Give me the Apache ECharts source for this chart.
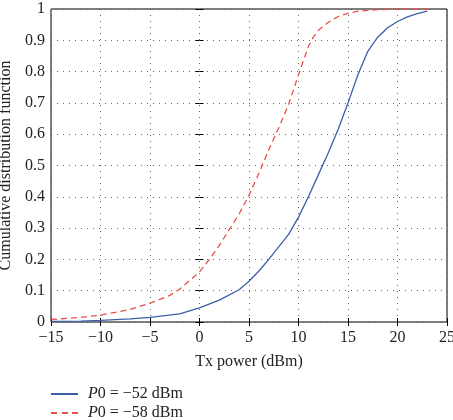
<!DOCTYPE html>
<html><head><meta charset="utf-8">
<script src="https://cdn.jsdelivr.net/npm/echarts@6/dist/echarts.min.js"></script>
<style>html,body{margin:0;padding:0;background:#fff}#c{width:453px;height:420px}</style>
</head><body><div id="c"></div>
<script>
const xBlue = [-15,-12,-10,-7,-5,-2,0,2,4,5,6,7,8,9,10,11,12,13,14,15,16,17,18,19,20,21,22,23];
const yBlue = [0.002,0.003,0.005,0.01,0.015,0.026,0.045,0.07,0.103,0.13,0.163,0.2,0.24,0.28,0.335,0.4,0.47,0.54,0.615,0.7,0.79,0.865,0.91,0.94,0.96,0.975,0.985,0.993];
const xRed = [-15,-12,-10,-7,-5,-3,-2,0,1,2,3,4,5,6,7,8,9,10,11,11.5,12,13,14,15,16,18,20,23];
const yRed = [0.008,0.015,0.022,0.04,0.06,0.085,0.105,0.16,0.2,0.245,0.295,0.345,0.405,0.475,0.55,0.62,0.695,0.79,0.88,0.91,0.932,0.957,0.976,0.986,0.993,0.998,1.0,1.0];
const names = ['P0 = −52 dBm','P0 = −58 dBm'];
const xTicks = {min:-15,max:25,interval:5};
const yTicks = {min:0,max:1,interval:0.1};

const FONT = 'Liberation Serif';
const FS = 16;
const TXT = '#222';
const minus = v => String(v).replace('-', '−');
const chart = echarts.init(document.getElementById('c'), null, {renderer:'canvas'});
const dotted = {show:true, lineStyle:{color:'#666', width:1, type:[1,5]}};
const tick = {show:true, inside:true, length:4, lineStyle:{color:'#000'}};
const legendText = {fontFamily:FONT, fontSize:FS, color:TXT,
  rich:{i:{fontFamily:FONT, fontSize:FS, fontStyle:'italic', color:TXT, padding:[0,0,0,5]}, n:{fontFamily:FONT, fontSize:FS, color:TXT}}};
const legendFmt = n => '{i|P}{n|' + n.slice(1) + '}';
const mkLegend = (name, top, icon) => ({
  left:51, top:top, padding:0, itemWidth:27, itemHeight:2, itemGap:9,
  textStyle:legendText, formatter:legendFmt, selectedMode:false,
  data:[{name:name, icon:icon}]
});
chart.setOption({
  animation:false,
  grid: {left:51, right:6, top:9, bottom:98, show:true, borderColor:'#000', borderWidth:1, containLabel:false, outerBoundsMode:'none'},
  legend: [
    mkLegend(names[0], 386, 'path://M0,0h27v2h-27z'),
    mkLegend(names[1], 405, 'path://M0,0h6v2h-6z M11,0h6v2h-6z M21,0h6v2h-6z')
  ],
  xAxis: [{
    type:'value', min:xTicks.min, max:xTicks.max, interval:xTicks.interval,
    name:'Tx power (dBm)', nameLocation:'middle', nameGap:32,
    nameTextStyle:{fontFamily:FONT, fontSize:FS, color:TXT},
    axisLine:{show:false}, axisTick:tick,
    axisLabel:{fontFamily:FONT, fontSize:FS, color:TXT, margin:8, formatter: minus},
    splitLine: dotted
  },{
    type:'value', position:'top', min:xTicks.min, max:xTicks.max, interval:xTicks.interval,
    axisLine:{show:false}, axisTick:tick, axisLabel:{show:false}, splitLine:{show:false}
  }],
  yAxis: [{
    type:'value', min:yTicks.min, max:yTicks.max, interval:yTicks.interval,
    name:'Cumulative distribution function', nameLocation:'middle', nameGap:35,
    nameTextStyle:{fontFamily:FONT, fontSize:FS, color:TXT},
    axisLine:{show:false}, axisTick:tick,
    axisLabel:{fontFamily:FONT, fontSize:FS, color:TXT, margin:6, formatter: v => String(+v.toFixed(1))},
    splitLine: dotted
  },{
    type:'value', position:'right', min:yTicks.min, max:yTicks.max, interval:yTicks.interval,
    axisLine:{show:false}, axisTick:tick, axisLabel:{show:false}, splitLine:{show:false}
  }],
  series: [{
    name:names[0], type:'line', showSymbol:false, symbol:'none',
    data: xBlue.map((x,i)=>[x,yBlue[i]]),
    lineStyle:{color:'#3c5ea8', width:1.3}, itemStyle:{color:'#3c5ea8'}
  },{
    name:names[1], type:'line', showSymbol:false, symbol:'none',
    data: xRed.map((x,i)=>[x,yRed[i]]),
    lineStyle:{color:'#e8524a', width:1.3, type:[6,4]}, itemStyle:{color:'#e8524a'}
  }]
});
</script></body></html>
